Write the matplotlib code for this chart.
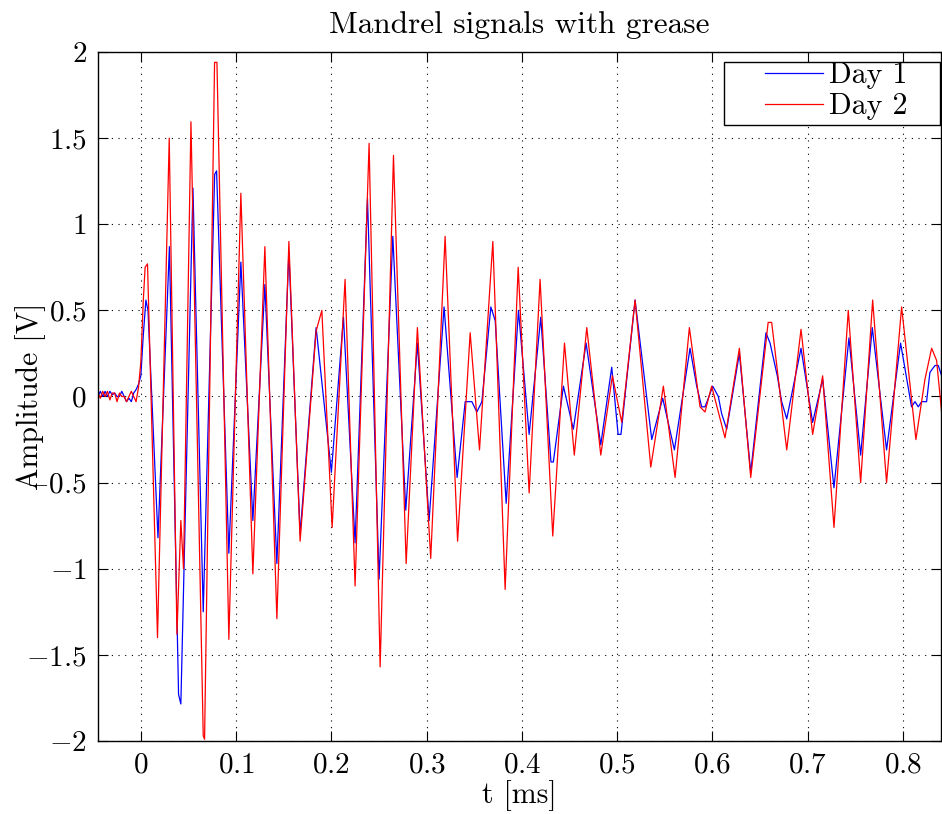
import numpy as np
import matplotlib
matplotlib.use("Agg")
import matplotlib.pyplot as plt
from matplotlib.ticker import FuncFormatter
from matplotlib.patches import Rectangle

plt.rcParams['font.family'] = 'serif'
plt.rcParams['font.serif'] = ['cmr10']
plt.rcParams['mathtext.fontset'] = 'cm'
plt.rcParams['axes.unicode_minus'] = False

# ============================
# data
# ============================
t_day1 = [-0.045, -0.0425, -0.040, -0.0375, -0.035, -0.0325, -0.030, -0.0275, -0.025, -0.0225,
          -0.020, -0.0175, -0.015, -0.0125, -0.010, -0.0075, -0.005, -0.0025, 0.0, 0.0025,
          0.0053, 0.0075, 0.018, 0.030, 0.0396, 0.042, 0.0547, 0.0655, 0.0775, 0.0795,
          0.0924, 0.105, 0.1176, 0.1302, 0.1428, 0.1554, 0.1672, 0.184, 0.200, 0.2127,
          0.2249, 0.2379, 0.2501, 0.2645, 0.2781, 0.2903, 0.3026, 0.3183, 0.3320, 0.3405,
          0.3475, 0.3527, 0.358, 0.3674, 0.3720, 0.3835, 0.3964, 0.4076, 0.4198, 0.4305,
          0.433, 0.4436, 0.454, 0.4674, 0.4828, 0.4943, 0.501, 0.504, 0.5188, 0.5363,
          0.5478, 0.5601, 0.5765, 0.5835, 0.5887, 0.5922, 0.5957, 0.6003, 0.6062, 0.6097,
          0.615, 0.6283, 0.6402, 0.6562, 0.6605, 0.6681, 0.6727, 0.678, 0.693, 0.7052,
          0.7157, 0.7276, 0.7433, 0.7556, 0.7678, 0.7828, 0.7975, 0.809, 0.8126, 0.8161,
          0.8196, 0.8248, 0.8283, 0.8336, 0.8371, 0.8406]
v_day1 = [0.0, 0.03, 0.0, 0.03, 0.0, 0.03, 0.01, 0.02, 0.0, 0.0,
          0.03, 0.0, -0.03, -0.01, -0.03, 0.02, 0.04, 0.07, 0.12, 0.35,
          0.56, 0.50, -0.82, 0.87, -1.73, -1.785, 1.21, -1.25, 1.29, 1.31,
          -0.91, 0.78, -0.72, 0.65, -0.97, 0.84, -0.80, 0.40, -0.44, 0.46,
          -0.85, 1.15, -1.06, 0.93, -0.66, 0.31, -0.72, 0.52, -0.47, -0.03,
          -0.03, -0.09, -0.03, 0.52, 0.44, -0.62, 0.50, -0.22, 0.46, -0.38,
          -0.38, 0.06, -0.19, 0.31, -0.28, 0.17, -0.22, -0.22, 0.56, -0.25,
          -0.01, -0.31, 0.28, 0.06, -0.06, -0.06, -0.01, 0.06, 0.0, -0.10,
          -0.19, 0.25, -0.44, 0.37, 0.31, 0.12, -0.03, -0.13, 0.28, -0.15,
          0.10, -0.53, 0.34, -0.34, 0.40, -0.31, 0.31, -0.06, -0.03, -0.06,
          -0.03, -0.03, 0.14, 0.18, 0.18, 0.12]

t_day2 = [-0.045, -0.0425, -0.040, -0.0375, -0.035, -0.0325, -0.030, -0.0275, -0.025, -0.0225,
          -0.020, -0.0175, -0.015, -0.0125, -0.010, -0.0075, -0.005, -0.0025, 0.0, 0.0025,
          0.0045, 0.0070, 0.0175, 0.0298, 0.0379, 0.042, 0.0448, 0.0526, 0.0655, 0.0669,
          0.0774, 0.0799, 0.0924, 0.105, 0.1176, 0.1302, 0.1428, 0.1554, 0.1672, 0.184,
          0.190, 0.2008, 0.2144, 0.2249, 0.2396, 0.2512, 0.2652, 0.2785, 0.2903, 0.3043,
          0.3194, 0.3325, 0.3457, 0.3555, 0.3695, 0.3824, 0.3961, 0.4076, 0.4191, 0.4324,
          0.4447, 0.455, 0.4681, 0.4828, 0.495, 0.5048, 0.5188, 0.5353, 0.5485, 0.5608,
          0.5758, 0.5870, 0.5922, 0.5992, 0.6132, 0.6283, 0.6402, 0.6585, 0.6622, 0.678,
          0.693, 0.7052, 0.7157, 0.7276, 0.7426, 0.7556, 0.7682, 0.7828, 0.7986, 0.8136,
          0.8231, 0.8301, 0.8353, 0.8406]
v_day2 = [0.02, -0.01, 0.03, 0.0, 0.03, -0.02, 0.02, 0.02, -0.03, 0.02,
          0.0, 0.0, -0.03, 0.0, 0.03, 0.0, -0.03, 0.05, 0.20, 0.55,
          0.75, 0.77, -1.40, 1.50, -1.38, -0.72, -1.0, 1.595, -1.97, -1.99,
          1.94, 1.94, -1.41, 1.18, -1.03, 0.87, -1.29, 0.90, -0.84, 0.38,
          0.50, -0.76, 0.68, -1.10, 1.47, -1.57, 1.40, -0.97, 0.40, -0.94,
          0.93, -0.84, 0.37, -0.31, 0.90, -1.12, 0.75, -0.56, 0.68, -0.81,
          0.31, -0.34, 0.40, -0.34, 0.12, -0.15, 0.56, -0.41, 0.06, -0.47,
          0.40, -0.06, -0.09, 0.06, -0.24, 0.28, -0.47, 0.43, 0.43, -0.31,
          0.39, -0.22, 0.12, -0.76, 0.50, -0.50, 0.56, -0.50, 0.52, -0.25,
          0.10, 0.28, 0.21, -0.09]

x_ticks = [0, 0.1, 0.2, 0.3, 0.4, 0.5, 0.6, 0.7, 0.8]
y_ticks = [-2, -1.5, -1, -0.5, 0, 0.5, 1, 1.5, 2]

# ============================
# plot
# ============================
fig = plt.figure(figsize=(9.42, 8.14), dpi=100)
ax = fig.add_axes([0.104, 0.0897, 0.895, 0.8464])

ax.plot(t_day1, v_day1, color='blue', lw=0.9, label='Day 1')
ax.plot(t_day2, v_day2, color='red', lw=0.9, label='Day 2')

ax.set_xlim(-0.045, 0.84)
ax.set_ylim(-2, 2)
ax.set_xticks(x_ticks)
ax.set_yticks(y_ticks)
fmt = FuncFormatter(lambda v, p: r'$%g$' % v)
ax.xaxis.set_major_formatter(fmt)
ax.yaxis.set_major_formatter(fmt)
ax.tick_params(direction='in', length=7, width=0.8, labelsize=21, top=True, right=True, pad=8)
ax.grid(True, linestyle=(0, (1, 5)), color='black', lw=0.8)
for s in ax.spines.values():
    s.set_linewidth(1.0)

ax.set_title('Mandrel signals with grease', fontsize=22.5, pad=14)
ax.set_xlabel('t [ms]', fontsize=21.5)
ax.set_ylabel('Amplitude [V]', fontsize=21.5)
ax.xaxis.set_label_coords(0.5, -0.057)
ax.yaxis.set_label_coords(-0.062, 0.5)

# legend: matlab style box with wide side margins
leg = ax.legend(loc='upper left', bbox_to_anchor=(0.791, 0.986), fontsize=21.5,
                frameon=False, borderpad=0, labelspacing=0.12, handlelength=1.95,
                handletextpad=0.2, borderaxespad=0)
ax.add_patch(Rectangle((0.7426, 0.894), 0.2562, 0.0915, transform=ax.transAxes,
                       facecolor='white', edgecolor='black', lw=1.0, zorder=4))
leg.set_zorder(5)

plt.savefig('out.png', dpi=100)
